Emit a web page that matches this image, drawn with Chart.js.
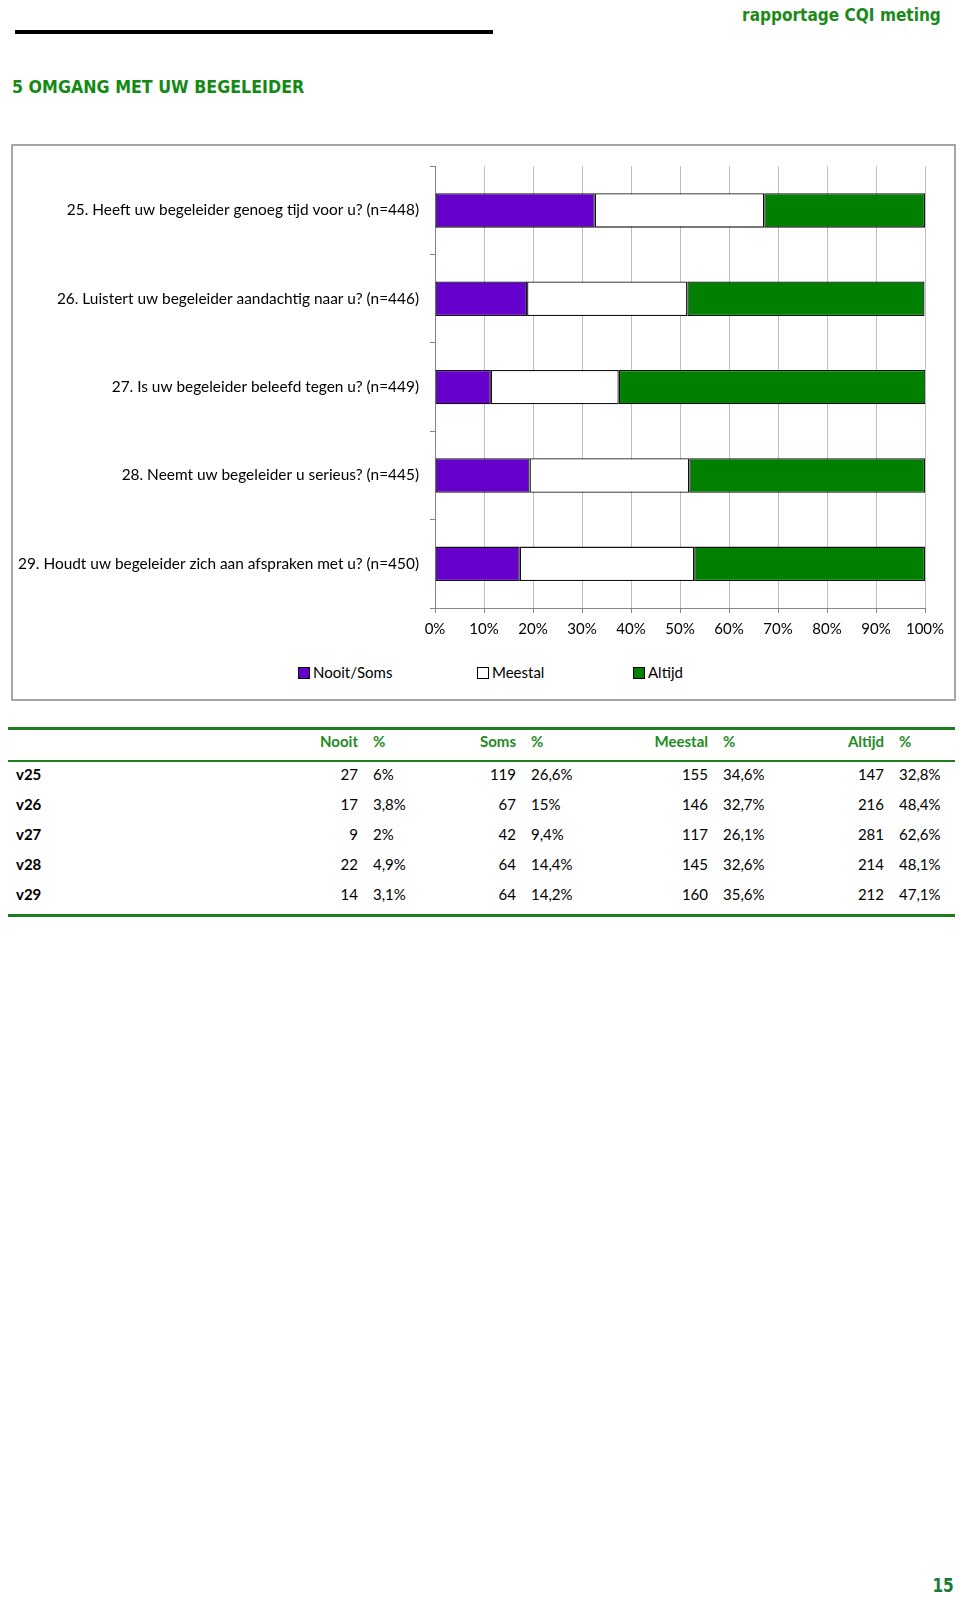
<!DOCTYPE html>
<html lang="nl">
<head>
<meta charset="utf-8">
<title>5 Omgang met uw begeleider</title>
<script src="https://cdn.jsdelivr.net/npm/chart.js@4"></script>
<style>
  html, body { margin: 0; padding: 0; background: #fff; }
  body { width: 960px; height: 1599px; position: relative; overflow: hidden; font-family: Lato, "Open Sans", sans-serif; }
  .hdr { position: absolute; top: 5px; right: 19px; color: #1a8a1a; font: bold 17.5px "DejaVu Sans", sans-serif; font-stretch: condensed;
         transform: scaleX(0.975); transform-origin: right center; white-space: nowrap; }
  .rule { position: absolute; left: 15px; top: 30px; width: 478px; height: 4px; background: #000; }
  h1 { position: absolute; left: 12px; top: 76px; margin: 0; color: #138a13; font: bold 18.5px "DejaVu Sans", sans-serif; font-stretch: condensed;
       transform: scaleX(0.955); transform-origin: left center; white-space: nowrap; }
  .box { position: absolute; left: 11px; top: 144px; width: 941px; height: 553px; border: 2px solid #a6a6a6; }
  .chart-wrap { position: absolute; left: 0; top: 0; width: 941px; height: 500px; }
  .legend { position: absolute; left: 0; top: 515px; width: 941px; height: 22px; font: 15px Lato, sans-serif; color: #000; }
  .legend span { position: absolute; top: 0; line-height: 22px; white-space: nowrap; }
  .legend i { display: inline-block; width: 10px; height: 10px; border: 1px solid #000; margin-right: 3px; vertical-align: -1px; }
  table { position: absolute; left: 8px; top: 727px; width: 947px; border-collapse: separate; border-spacing: 0;
          border-top: 3px solid #1e7e1e; border-bottom: 3px solid #1e7e1e; table-layout: fixed; font: 15px Lato, sans-serif; }
  th { color: #1f8a1f; font-weight: bold; line-height: 22px; padding: 0 0 8px 0; border-bottom: 2px solid #1e7e1e; }
  td { line-height: 24px; padding: 0 0 6px 0; color: #000; }
  tr:last-child td { padding-bottom: 8px; }
  .n { text-align: right; padding-right: 8px; }
  .p { text-align: left; padding-left: 7px; }
  .lbl { padding-left: 8px; font-weight: bold; text-align: left; }
  .page { position: absolute; right: 6px; top: 1574px; color: #1a7a3a; font: bold 19px "DejaVu Sans", sans-serif; font-stretch: condensed;
          transform: scaleX(0.9); transform-origin: right center; }
</style>
</head>
<body>
<div class="hdr">rapportage CQI meting</div>
<div class="rule"></div>
<h1>5 OMGANG MET UW BEGELEIDER</h1>

<div class="box">
  <div class="chart-wrap"><canvas id="chart"></canvas></div>
  <div class="legend" id="legend"></div>
</div>

<table id="tbl">
  <colgroup>
    <col style="width:292px"><col style="width:66px"><col style="width:104px">
    <col style="width:54px"><col style="width:116px"><col style="width:76px">
    <col style="width:104px"><col style="width:72px"><col style="width:63px">
  </colgroup>
  <thead></thead>
  <tbody></tbody>
</table>

<div class="page">15</div>

<script>
'use strict';

// ── Data ───────────────────────────────────────────────────────────────────
const questions = [
  '25. Heeft uw begeleider genoeg tijd voor u? (n=448)',
  '26. Luistert uw begeleider aandachtig naar u? (n=446)',
  '27. Is uw begeleider beleefd tegen u? (n=449)',
  '28. Neemt uw begeleider u serieus? (n=445)',
  '29. Houdt uw begeleider zich aan afspraken met u? (n=450)',
];
const codes = ['v25', 'v26', 'v27', 'v28', 'v29'];

// chart series (% of respondents)
const seriesNames   = ['Nooit/Soms', 'Meestal', 'Altijd'];
const nooitSomsPct  = [32.6, 18.8, 11.4, 19.3, 17.3];
const meestalPct    = [34.6, 32.7, 26.1, 32.6, 35.6];
const altijdPct     = [32.8, 48.4, 62.6, 48.1, 47.1];
const seriesColors  = ['#6600cc', '#ffffff', '#008000'];

// table columns
const nooitN   = [27, 17, 9, 22, 14];
const nooitPct = [6, 3.8, 2, 4.9, 3.1];
const somsN    = [119, 67, 42, 64, 64];
const somsPct  = [26.6, 15, 9.4, 14.4, 14.2];
const meestalN = [155, 146, 117, 145, 160];
const altijdN  = [147, 216, 281, 214, 212];

const xTicks = [0, 10, 20, 30, 40, 50, 60, 70, 80, 90, 100];

// ── Chart ──────────────────────────────────────────────────────────────────
const GRID = '#bfbfbf';
const AXIS = '#868686';

const seriesData = [nooitSomsPct, meestalPct, altijdPct];

new Chart(document.getElementById('chart'), {
  type: 'bar',
  data: {
    labels: questions,
    datasets: seriesNames.map((name, i) => ({
      label: name,
      data: seriesData[i],
      backgroundColor: seriesColors[i],
      borderColor: '#111',
      borderWidth: 1.3,
      borderSkipped: false,
      barPercentage: 0.39,
      categoryPercentage: 1,
    })),
  },
  options: {
    indexAxis: 'y',
    responsive: true,
    maintainAspectRatio: false,
    animation: false,
    layout: { padding: { top: 19, right: 29, left: 0, bottom: 0 } },
    plugins: { legend: { display: false }, tooltip: { enabled: false } },
    scales: {
      x: {
        stacked: true,
        min: 0, max: 100,
        afterBuildTicks: s => { s.ticks = xTicks.map(v => ({ value: v })); },
        afterFit: s => { s.height = 38; },
        ticks: { color: '#000', font: { family: 'Lato, sans-serif', size: 15 }, padding: 7, callback: v => v + '%' },
        grid: { color: GRID, tickColor: AXIS, tickLength: 5 },
        border: { color: AXIS },
      },
      y: {
        stacked: true,
        afterFit: s => { s.width = 422; },
        ticks: { color: '#000', font: { family: 'Lato, sans-serif', size: 15.4 }, padding: 11 },
        grid: { drawOnChartArea: false, offset: true, tickColor: AXIS, tickLength: 5 },
        border: { color: AXIS },
      },
    },
  },
});

// ── Legend ─────────────────────────────────────────────────────────────────
const legendX = [285, 464, 620];
document.getElementById('legend').innerHTML = seriesNames.map((name, i) =>
  `<span style="left:${legendX[i]}px"><i style="background:${seriesColors[i]}"></i>${name}</span>`
).join('');

// ── Table ──────────────────────────────────────────────────────────────────
const pct = v => String(v).replace('.', ',') + '%';

document.querySelector('#tbl thead').innerHTML = `<tr>
  <th></th><th class="n">Nooit</th><th class="p">%</th>
  <th class="n">Soms</th><th class="p">%</th>
  <th class="n">Meestal</th><th class="p">%</th>
  <th class="n">Altijd</th><th class="p">%</th></tr>`;

document.querySelector('#tbl tbody').innerHTML = codes.map((c, i) => `<tr>
  <td class="lbl">${c}</td>
  <td class="n">${nooitN[i]}</td><td class="p">${pct(nooitPct[i])}</td>
  <td class="n">${somsN[i]}</td><td class="p">${pct(somsPct[i])}</td>
  <td class="n">${meestalN[i]}</td><td class="p">${pct(meestalPct[i])}</td>
  <td class="n">${altijdN[i]}</td><td class="p">${pct(altijdPct[i])}</td></tr>`
).join('');
</script>
</body>
</html>
